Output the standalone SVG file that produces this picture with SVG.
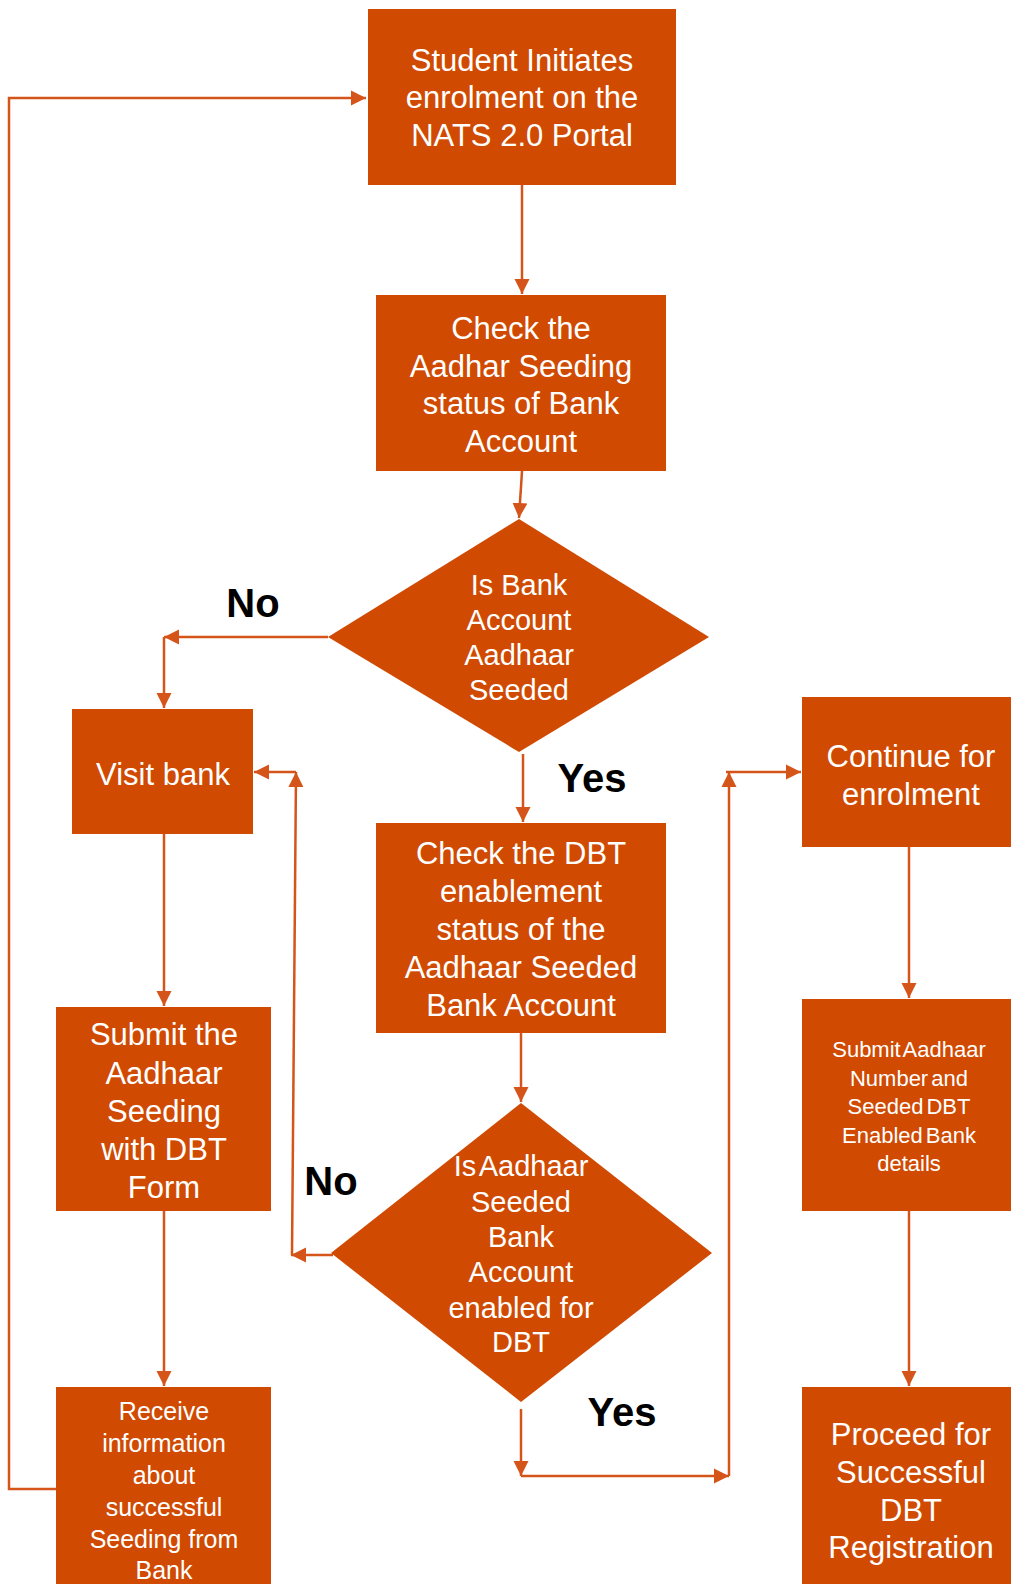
<svg xmlns="http://www.w3.org/2000/svg" width="1011" height="1584" viewBox="0 0 1011 1584">
<style>
.n{fill:#D04A02}
.t{fill:#fff;font-family:"Liberation Sans",Arial,sans-serif;text-anchor:middle}
.l{fill:#000;font-family:"Liberation Sans",Arial,sans-serif;font-weight:bold;font-size:40px;text-anchor:middle}
.c{fill:none;stroke:#D4541A;stroke-width:2.5}
.a{marker-end:url(#ah)}
</style>
<defs>
<marker id="ah" markerUnits="userSpaceOnUse" markerWidth="16" markerHeight="16" viewBox="0 0 16 16" refX="15" refY="8" orient="auto">
<path d="M0,0.5 L15,8 L0,15.5 Z" fill="#D4541A"/>
</marker>
</defs>
<rect width="1011" height="1584" fill="#fff"/>
<g id="connectors">
<path class="c" d="M56,1489 H9 V98 H366" marker-end="url(#ah)"/>
<path class="c a" d="M522,185 V294"/>
<path class="c a" d="M522,471 L519,518"/>
<path class="c a" d="M328,637 H164"/>
<path class="c a" d="M164,637 V708"/>
<path class="c a" d="M523,754 V822"/>
<path class="c a" d="M521,1033 V1102"/>
<path class="c a" d="M333,1255 H291"/>
<path class="c a" d="M292,1255 L296,772"/>
<path class="c a" d="M296,772 H254"/>
<path class="c a" d="M521,1409 V1476"/>
<path class="c a" d="M521,1476 H729"/>
<path class="c a" d="M729,1476 V772"/>
<path class="c a" d="M726,772 H801"/>
<path class="c a" d="M909,847 V998"/>
<path class="c a" d="M909,1211 V1386"/>
<path class="c a" d="M164,834 V1006"/>
<path class="c a" d="M164,1211 V1386"/>
</g>
<g id="n1">
<rect class="n" x="368" y="9" width="308" height="176"/>
<text class="t" font-size="31"><tspan x="522" y="71">Student Initiates</tspan><tspan x="522" y="108">enrolment on the</tspan><tspan x="522" y="146">NATS 2.0 Portal</tspan></text>
</g>
<g id="n2">
<rect class="n" x="376" y="295" width="290" height="176"/>
<text class="t" font-size="31"><tspan x="521" y="339">Check the</tspan><tspan x="521" y="377">Aadhar Seeding</tspan><tspan x="521" y="414">status of Bank</tspan><tspan x="521" y="452">Account</tspan></text>
</g>
<g id="d1">
<polygon class="n" points="519,519 709,637 519,752 328,637"/>
<text class="t" font-size="29"><tspan x="519" y="595">Is Bank</tspan><tspan x="519" y="630">Account</tspan><tspan x="519" y="665">Aadhaar</tspan><tspan x="519" y="700">Seeded</tspan></text>
</g>
<g id="n3">
<rect class="n" x="72" y="709" width="181" height="125"/>
<text class="t" font-size="31" x="163" y="785">Visit bank</text>
</g>
<g id="n4">
<rect class="n" x="376" y="823" width="290" height="210"/>
<text class="t" font-size="31"><tspan x="521" y="864">Check the DBT</tspan><tspan x="521" y="902">enablement</tspan><tspan x="521" y="940">status of the</tspan><tspan x="521" y="978">Aadhaar Seeded</tspan><tspan x="521" y="1016">Bank Account</tspan></text>
</g>
<g id="d2">
<polygon class="n" points="521,1103 712,1253 521,1402 331,1253"/>
<text class="t" font-size="29"><tspan x="521" y="1176" word-spacing="-4">Is Aadhaar</tspan><tspan x="521" y="1212">Seeded</tspan><tspan x="521" y="1247">Bank</tspan><tspan x="521" y="1282">Account</tspan><tspan x="521" y="1318">enabled for</tspan><tspan x="521" y="1352">DBT</tspan></text>
</g>
<g id="n5">
<rect class="n" x="802" y="697" width="220" height="150"/>
<text class="t" font-size="31"><tspan x="911" y="767">Continue for</tspan><tspan x="911" y="805">enrolment</tspan></text>
</g>
<g id="n6">
<rect class="n" x="802" y="999" width="220" height="212"/>
<text class="t" font-size="22" word-spacing="-3"><tspan x="909" y="1057">Submit Aadhaar</tspan><tspan x="909" y="1086">Number and</tspan><tspan x="909" y="1114">Seeded DBT</tspan><tspan x="909" y="1143">Enabled Bank</tspan><tspan x="909" y="1171">details</tspan></text>
</g>
<g id="n7">
<rect class="n" x="802" y="1387" width="220" height="200"/>
<text class="t" font-size="31"><tspan x="911" y="1445">Proceed for</tspan><tspan x="911" y="1483">Successful</tspan><tspan x="911" y="1521">DBT</tspan><tspan x="911" y="1558">Registration</tspan></text>
</g>
<g id="n8">
<rect class="n" x="56" y="1007" width="215" height="204"/>
<text class="t" font-size="31"><tspan x="164" y="1045">Submit the</tspan><tspan x="164" y="1084">Aadhaar</tspan><tspan x="164" y="1122">Seeding</tspan><tspan x="164" y="1160">with DBT</tspan><tspan x="164" y="1198">Form</tspan></text>
</g>
<g id="n9">
<rect class="n" x="56" y="1387" width="215" height="200"/>
<text class="t" font-size="25"><tspan x="164" y="1420">Receive</tspan><tspan x="164" y="1452">information</tspan><tspan x="164" y="1484">about</tspan><tspan x="164" y="1516">successful</tspan><tspan x="164" y="1548">Seeding from</tspan><tspan x="164" y="1579">Bank</tspan></text>
</g>
<g id="labels">
<text class="l" x="253" y="617">No</text>
<text class="l" x="592" y="792">Yes</text>
<text class="l" x="331" y="1195">No</text>
<text class="l" x="622" y="1426">Yes</text>
</g>
</svg>
